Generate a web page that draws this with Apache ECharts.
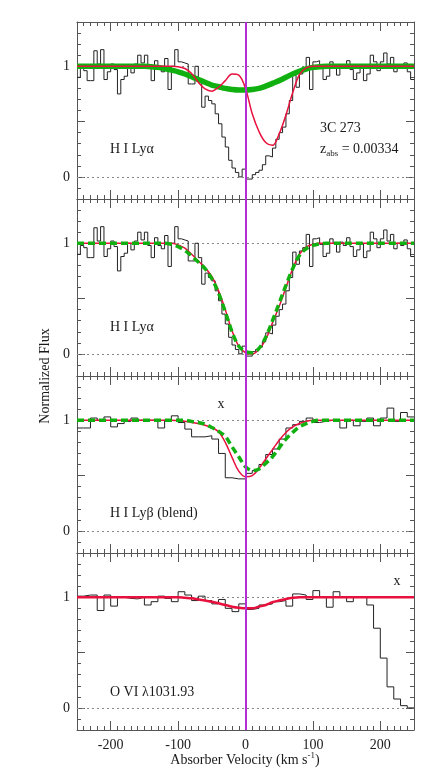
<!DOCTYPE html>
<html>
<head>
<meta charset="utf-8">
<script src="https://cdn.jsdelivr.net/npm/echarts@6/dist/echarts.min.js"></script>
<style>
html,body{margin:0;padding:0;background:#fff;}
#chart{width:436px;height:779px;}
</style>
</head>
<body>
<div id="chart"></div>
<script>
// ---------------- DATA ----------------
// Velocity axis
const velMin = -250;
const velMax = 250;
const xMajorTicks = [-200, -100, 0, 100, 200];
const yLabelTicks = [0, 1];
const yMajorTicks = [0, 0.5, 1];

// Observed H I Ly-alpha spectrum (5 km/s bins starting at -250)
const lyaBinWidth = 5;
const lyaFlux = [
  0.90, 0.98, 0.96, 0.87, 0.87, 1.14, 1.02, 1.15, 0.88, 0.95,
  1.02, 0.97, 0.75, 0.88, 0.91, 1.00, 0.94, 1.02, 1.10, 1.03,
  1.10, 0.98, 0.87, 1.05, 0.98, 0.95, 1.07, 0.79, 1.00, 1.15,
  1.04, 1.03, 1.02, 0.84, 0.84, 1.00, 0.87, 0.63, 0.73, 0.69,
  0.66, 0.57, 0.48, 0.36, 0.27, 0.15, 0.08, 0.04, 0.00, 0.07,
  -0.02, -0.02, 0.02, 0.04, 0.06, 0.11, 0.19, 0.18, 0.26, 0.34,
  0.40, 0.45, 0.57, 0.69, 0.92, 0.81, 0.93, 0.96, 1.08, 0.79,
  1.04, 1.05, 0.99, 0.88, 0.91, 1.04, 1.00, 0.92, 1.01, 0.98,
  1.05, 0.97, 0.88, 0.94, 1.00, 0.87, 0.93, 1.10, 1.04, 0.96,
  1.04, 1.12, 1.02, 1.08, 0.95, 1.00, 0.98, 1.03, 0.95, 0.88
];

// Observed H I Ly-beta (blend) spectrum (10 km/s bins starting at -250)
const lybBinWidth = 10;
const lybFlux = [
  0.93, 0.93, 1.02, 1.00, 1.03, 0.94, 0.97, 0.99, 1.02, 1.00,
  1.00, 1.00, 0.93, 1.00, 1.04, 0.98, 0.92, 0.85, 0.85, 0.86,
  0.83, 0.70, 0.48, 0.47, 0.47, 0.52, 0.545, 0.60, 0.69, 0.74,
  0.83, 0.93, 0.96, 0.99, 1.02, 0.98, 0.99, 1.00, 1.00, 0.93,
  1.00, 0.95, 0.99, 1.02, 0.95, 1.02, 1.11, 0.99, 1.07, 1.03
];

// Observed O VI 1031.93 spectrum (10 km/s bins starting at -250)
const oviBinWidth = 10;
const oviFlux = [
  1.01, 1.02, 1.02, 0.88, 1.02, 0.92, 1.00, 0.99, 0.985, 1.00,
  0.93, 0.96, 1.01, 0.99, 0.96, 1.05, 1.02, 0.97, 1.01, 0.97,
  0.94, 0.98, 0.90, 0.87, 0.94, 0.89, 0.90, 0.93, 0.94, 0.96,
  0.97, 0.92, 1.03, 1.02, 0.98, 1.06, 1.00, 0.91, 1.05, 1.00,
  0.96, 1.00, 1.00, 0.93, 0.72, 0.45, 0.19, 0.08, 0.02, 0.00
];

// Model profiles, sampled every 10 km/s from -250 to 250
const modelStep = 10;
const lya1Red = [
  1, 1, 1, 1, 1, 1, 1, 1, 1, 1, 1, 1, 1, 1,            // -250..-120
  1.0, 0.995, 0.98, 0.935, 0.855, 0.795, 0.775, 0.81, 0.87, 0.93, 0.92, // -110..-10
  0.80, 0.57, 0.41, 0.31, 0.285, 0.39, 0.56, 0.76, 0.925, 0.985, 1.0,   // 0..100
  1, 1, 1, 1, 1, 1, 1, 1, 1, 1, 1, 1, 1, 1, 1           // 110..250
];
const lya1Green = [
  1, 1, 1, 1, 1, 1, 1, 1, 1, 1, 1,                      // -250..-150
  0.995, 0.99, 0.98, 0.965, 0.95, 0.93, 0.905, 0.88, 0.855, 0.83, 0.815, 0.80, 0.79, 0.785, // -140..-10
  0.785, 0.79, 0.80, 0.82, 0.845, 0.87, 0.90, 0.93, 0.955, 0.975, 0.99, 0.995,             // 0..110
  1, 1, 1, 1, 1, 1, 1, 1, 1, 1, 1, 1, 1, 1              // 120..250
];
const lya2Red = [
  1, 1, 1, 1, 1, 1, 1, 1, 1, 1, 1, 1, 1, 1, 1,         // -250..-110
  0.985, 0.955, 0.90, 0.84, 0.78, 0.70, 0.57, 0.40, 0.21, 0.07, // -100..-10
  0.01, 0.0, 0.04, 0.13, 0.28, 0.43, 0.60, 0.77, 0.90, 0.965, 0.99, // 0..100
  1, 1, 1, 1, 1, 1, 1, 1, 1, 1, 1, 1, 1, 1, 1          // 110..250
];
const lya2Green = [
  1, 1, 1, 1, 1, 1, 1, 1, 1, 1, 1, 1, 1,               // -250..-130
  1.0, 0.99, 0.97, 0.935, 0.885, 0.83, 0.77, 0.68, 0.55, 0.38, 0.20, 0.07, // -120..-10
  0.02, 0.01, 0.05, 0.15, 0.30, 0.46, 0.62, 0.77, 0.89, 0.95, 0.98, 0.995, 1.0, // 0..120
  1, 1, 1, 1, 1, 1, 1, 1, 1, 1, 1, 1, 1                // 130..250
];
const lybRed = [
  1, 1, 1, 1, 1, 1, 1, 1, 1, 1, 1, 1, 1, 1, 1,         // -250..-110
  0.995, 0.99, 0.98, 0.97, 0.955, 0.935, 0.895, 0.80, 0.665, 0.54, // -100..-10
  0.49, 0.50, 0.565, 0.65, 0.735, 0.82, 0.89, 0.94, 0.97, 0.99, 1.0, // 0..100
  1, 1, 1, 1, 1, 1, 1, 1, 1, 1, 1, 1, 1, 1, 1          // 110..250
];
const lybGreen = [
  1, 1, 1, 1, 1, 1, 1, 1, 1, 1, 1, 1, 1, 1, 1, 1, 1,   // -250..-90
  0.99, 0.98, 0.965, 0.935, 0.90, 0.855, 0.76, 0.67,   // -80..-10
  0.58, 0.545, 0.56, 0.61, 0.67, 0.75, 0.83, 0.89, 0.94, 0.97, 0.99, 1.0, // 0..110
  1, 1, 1, 1, 1, 1, 1, 1, 1, 1, 1, 1, 1, 1             // 120..250
];
const oviRed = [
  1, 1, 1, 1, 1, 1, 1, 1, 1, 1, 1, 1, 1, 1, 1,         // -250..-110
  1.0, 0.995, 0.99, 0.98, 0.97, 0.96, 0.945, 0.93, 0.915, 0.905, // -100..-10
  0.90, 0.90, 0.915, 0.93, 0.955, 0.97, 0.985, 0.995, 1.0,       // 0..80
  1, 1, 1, 1, 1, 1, 1, 1, 1, 1, 1, 1, 1, 1, 1, 1, 1    // 90..250
];

// Panel labels
const panelLabels = ['H I Lyα', 'H I Lyα', 'H I Lyβ (blend)', 'O VI λ1031.93'];
const objectName = '3C 273';
const zabsText = '0.00334';
const yTitle = 'Normalized Flux';

// ---------------- BUILD ----------------
function stepSeriesData(flux, start, width) {
  const pts = flux.map((f, i) => [start + i * width, f]);
  pts.push([start + flux.length * width, flux[flux.length - 1]]);
  return pts;
}
function modelData(vals) {
  return vals.map((v, i) => [velMin + i * modelStep, v]);
}

const FONT = 'Liberation Serif';
const AXC = '#555';
const TXT = '#1a1a1a';
const RED = '#e8103c';
const GREEN = '#10b010';
const MAGENTA = '#b32ed3';

const panelTop = [22, 199, 376, 553];
const panelH = 177;
const grids = panelTop.map(t => ({ left: 77, width: 337, top: t, height: panelH }));

const xAxes = [];
const yAxes = [];
panelTop.forEach((t, g) => {
  ['bottom', 'top'].forEach(pos => {
    xAxes.push({
      gridIndex: g, type: 'value', min: velMin, max: velMax, interval: 10, position: pos,
      axisLine: { show: true, onZero: false, lineStyle: { color: AXC, width: 1 } },
      axisTick: { show: true, inside: true, length: 4, lineStyle: { color: AXC } },
      axisLabel: { show: false }, splitLine: { show: false }
    });
    xAxes.push({
      gridIndex: g, type: 'value', min: velMin, max: velMax, interval: 50, position: pos,
      axisLine: { show: false, onZero: false },
      axisTick: { show: true, inside: true, length: 9, customValues: xMajorTicks, lineStyle: { color: AXC } },
      axisLabel: {
        show: (g === 3 && pos === 'bottom'), customValues: xMajorTicks, margin: 8,
        fontFamily: FONT, fontSize: 14, color: TXT
      },
      splitLine: { show: false }
    });
  });
  ['left', 'right'].forEach(pos => {
    yAxes.push({
      gridIndex: g, type: 'value', min: -0.2, max: 1.4, interval: 0.1, position: pos,
      axisLine: { show: true, onZero: false, lineStyle: { color: AXC, width: 1 } },
      axisTick: { show: true, inside: true, length: 4, lineStyle: { color: AXC } },
      axisLabel: {
        show: pos === 'left', customValues: yLabelTicks, margin: 7,
        fontFamily: FONT, fontSize: 14, color: TXT
      },
      splitLine: { show: false }
    });
    yAxes.push({
      gridIndex: g, type: 'value', min: -0.2, max: 1.4, interval: 0.1, position: pos,
      axisLine: { show: false, onZero: false },
      axisTick: { show: true, inside: true, length: 8, customValues: yMajorTicks, lineStyle: { color: AXC } },
      axisLabel: { show: false },
      splitLine: { show: false }
    });
  });
});

function refLines() {
  return {
    silent: true, symbol: 'none', z: 1,
    label: { show: false },
    lineStyle: { type: [2, 3], color: '#888', width: 1 },
    data: [{ yAxis: 0 }, { yAxis: 1 }]
  };
}
function zeroLine() {
  return {
    silent: true, symbol: 'none', z: 10,
    label: { show: false },
    lineStyle: { type: 'solid', color: MAGENTA, width: 2 },
    data: [{ xAxis: 0 }]
  };
}

function dataSeries(g, flux, width) {
  return {
    type: 'line', xAxisIndex: 4 * g, yAxisIndex: 4 * g, step: 'end',
    data: stepSeriesData(flux, velMin, width), showSymbol: false, symbol: 'none',
    lineStyle: { color: '#222', width: 1 }, z: 2, silent: true, animation: false,
    markLine: refLines()
  };
}
function modelSeries(g, vals, color, width, dashed, z) {
  return {
    type: 'line', xAxisIndex: 4 * g, yAxisIndex: 4 * g, smooth: 0.35,
    data: modelData(vals), showSymbol: false, symbol: 'none',
    lineStyle: { color: color, width: width, type: dashed ? [7, 4] : 'solid', cap: 'butt' },
    z: z, silent: true, animation: false
  };
}

const series = [
  dataSeries(0, lyaFlux, lyaBinWidth),
  modelSeries(0, lya1Green, GREEN, 5.5, false, 3),
  modelSeries(0, lya1Red, RED, 1.5, false, 4),
  dataSeries(1, lyaFlux, lyaBinWidth),
  modelSeries(1, lya2Red, RED, 1.5, false, 3),
  modelSeries(1, lya2Green, GREEN, 3.5, true, 4),
  dataSeries(2, lybFlux, lybBinWidth),
  modelSeries(2, lybRed, RED, 1.5, false, 3),
  modelSeries(2, lybGreen, GREEN, 3.5, true, 4),
  dataSeries(3, oviFlux, oviBinWidth),
  modelSeries(3, oviRed, RED, 2.5, false, 4)
];
// magenta reference line at v = 0 in each panel
[0, 1, 2, 3].forEach(g => {
  series.push({
    type: 'line', xAxisIndex: 4 * g, yAxisIndex: 4 * g, data: [], silent: true,
    animation: false, markLine: zeroLine(), z: 10
  });
});

function txt(x, y, text, extra) {
  return Object.assign({
    type: 'text', x: x, y: y, silent: true,
    style: Object.assign({ text: text, fontFamily: FONT, fontSize: 14, fill: TXT,
      textVerticalAlign: 'middle', textAlign: 'left' }, extra || {})
  });
}

const graphic = [
  txt(110, 149, panelLabels[0]),
  txt(110, 327, panelLabels[1]),
  txt(110, 513, panelLabels[2]),
  txt(110, 692, panelLabels[3]),
  txt(320, 128, objectName),
  {
    type: 'text', x: 320, y: 149, silent: true,
    style: {
      text: '{m|z}{s|abs}{m| = ' + zabsText + '}',
      fontFamily: FONT, fontSize: 14, fill: TXT, textVerticalAlign: 'middle',
      rich: {
        m: { fontFamily: FONT, fontSize: 14, fill: TXT, lineHeight: 18, verticalAlign: 'middle' },
        s: { fontFamily: FONT, fontSize: 9, fill: TXT, lineHeight: 18, verticalAlign: 'bottom', padding: [6, 0, 0, 0] }
      }
    }
  },
  txt(221, 404, 'x', { textAlign: 'center' }),
  txt(397, 581, 'x', { textAlign: 'center' }),
  {
    type: 'text', x: 45, y: 376, rotation: Math.PI / 2, silent: true,
    style: { text: yTitle, fontFamily: FONT, fontSize: 14, fill: TXT, textAlign: 'center', textVerticalAlign: 'middle' }
  },
  {
    type: 'text', x: 245, y: 760, silent: true,
    style: {
      text: '{m|Absorber Velocity (km s}{p|-1}{m|)}',
      fontFamily: FONT, fontSize: 14, fill: TXT, textAlign: 'center', textVerticalAlign: 'middle',
      rich: {
        m: { fontFamily: FONT, fontSize: 14, fill: TXT, lineHeight: 18, verticalAlign: 'middle' },
        p: { fontFamily: FONT, fontSize: 9, fill: TXT, lineHeight: 18, verticalAlign: 'top', padding: [0, 0, 6, 0] }
      }
    }
  }
];

const chart = echarts.init(document.getElementById('chart'), null, { renderer: 'canvas' });
chart.setOption({
  backgroundColor: '#fff',
  animation: false,
  grid: grids,
  xAxis: xAxes,
  yAxis: yAxes,
  series: series,
  graphic: graphic
});
</script>
</body>
</html>
